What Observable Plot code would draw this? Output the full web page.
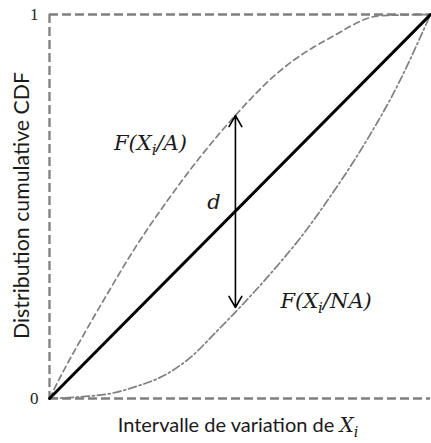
<!DOCTYPE html>
<html>
<head>
<meta charset="utf-8">
<script src="https://cdn.jsdelivr.net/npm/d3@7"></script>
<script src="https://cdn.jsdelivr.net/npm/@observablehq/plot@0.6"></script>
<style>
  html, body { margin: 0; padding: 0; background: #fff; }
  #chart svg { display: block; }
</style>
</head>
<body>
<div id="chart"></div>
<script>
// ---- data ----
const curveAX = [0, 0.04, 0.081, 0.152, 0.220, 0.310, 0.483, 0.606, 0.738, 0.869, 1];
const curveAY = [0, 0.078, 0.151, 0.273, 0.385, 0.516, 0.732, 0.854, 0.940, 0.997, 1];
const curveNAX = [0, 0.160, 0.220, 0.310, 0.370, 0.441, 0.488, 0.606, 0.659, 0.730, 0.861, 0.895, 1];
const curveNAY = [0, 0.013, 0.029, 0.065, 0.107, 0.177, 0.225, 0.355, 0.419, 0.516, 0.720, 0.780, 1];
const diagX = [0, 1];
const diagY = [0, 1];
const arrowX = 0.488;
const arrowMid = 0.488;
const arrowTop = 0.737;
const arrowBottom = 0.237;
const yTicks = [0, 1];
const yTickLabels = ["0", "1"];
const labelA = "F(X_i/A)";
const labelNA = "F(X_i/NA)";
const labelD = "d";
const labelAPos = [0.265, 0.665];
const labelNAPos = [0.606, 0.252];
const labelDPos = [0.432, 0.51];
const xTitle = "Intervalle de variation de X_i";
const yTitle = "Distribution cumulative CDF";

const A = curveAX.map((x, i) => ({x, y: curveAY[i]}));
const NA = curveNAX.map((x, i) => ({x, y: curveNAY[i]}));
const diag = diagX.map((x, i) => ({x, y: diagY[i]}));
const arrows = [
  {x1: arrowX, y1: arrowMid, x2: arrowX, y2: arrowTop},
  {x1: arrowX, y1: arrowMid, x2: arrowX, y2: arrowBottom}
];
const gray = "#7f7f7f";
const mathFont = "'DejaVu Serif', 'Liberation Serif', serif";
const tickFont = "'Liberation Serif', serif";
const sansFont = "Lato, 'Open Sans', sans-serif";

const plot = Plot.plot({
  width: 431,
  height: 443,
  marginLeft: 49,
  marginRight: 1,
  marginTop: 14,
  marginBottom: 45,
  x: {domain: [0, 1], axis: null},
  y: {domain: [0, 1], axis: null},
  style: {background: "#fff", overflow: "visible"},
  marks: [
    Plot.ruleY([0, 1], {stroke: gray, strokeWidth: 2.3, strokeDasharray: "9,4"}),
    Plot.ruleX([0], {stroke: gray, strokeWidth: 2.3, strokeDasharray: "9,4"}),
    Plot.line(A, {x: "x", y: "y", curve: "monotone-x", stroke: gray, strokeWidth: 1.7, strokeDasharray: "6,4"}),
    Plot.line(NA, {x: "x", y: "y", curve: "monotone-x", stroke: gray, strokeWidth: 1.7, strokeDasharray: "8,3,2,3"}),
    Plot.line(diag, {x: "x", y: "y", stroke: "#000", strokeWidth: 3}),
    Plot.arrow(arrows, {x1: "x1", y1: "y1", x2: "x2", y2: "y2", stroke: "#000", strokeWidth: 1.6, headLength: 12, headAngle: 60}),
    Plot.axisY({ticks: yTicks, tickSize: 0, tickPadding: 11, tickFormat: (d) => yTickLabels[yTicks.indexOf(d)], fontSize: 17, fontFamily: tickFont, label: null, color: "#222"}),
    Plot.text([labelA], {x: () => labelAPos[0], y: () => labelAPos[1], text: (d) => d, fontSize: 21, fontStyle: "italic", fontFamily: mathFont, fill: "#1a1a1a"}),
    Plot.text([labelNA], {x: () => labelNAPos[0], y: () => labelNAPos[1], text: (d) => d, fontSize: 21, fontStyle: "italic", fontFamily: mathFont, fill: "#1a1a1a", textAnchor: "start"}),
    Plot.text([labelD], {x: () => labelDPos[0], y: () => labelDPos[1], text: (d) => d, fontSize: 21, fontStyle: "italic", fontFamily: mathFont, fill: "#1a1a1a"}),
    Plot.text([xTitle], {frameAnchor: "bottom", textAnchor: "middle", text: (d) => d, dy: 33, dx: -2, fontSize: 20, fontFamily: sansFont, fill: "#1a1a1a"}),
    Plot.text([yTitle], {frameAnchor: "left", textAnchor: "middle", text: (d) => d, rotate: -90, dx: -27, dy: -1, fontSize: 21.3, fontFamily: sansFont, fill: "#1a1a1a"})
  ]
});

// subscript / math styling of labels like X_i
const ns = "http://www.w3.org/2000/svg";
d3.select(plot).selectAll("text").each(function () {
  const s = this.textContent;
  if (!s.includes("_")) return;
  const math = this.getAttribute("font-style") === "italic" ||
    (this.parentNode && this.parentNode.getAttribute("font-style") === "italic");
  const parts = s.split(/_(\w)/);
  this.textContent = "";
  const el = this;
  parts.forEach((p, k) => {
    if (k % 2 === 1) {
      const t = document.createElementNS(ns, "tspan");
      t.setAttribute("dy", "5");
      t.setAttribute("font-size", "0.72em");
      t.setAttribute("font-style", "italic");
      t.setAttribute("font-family", mathFont);
      t.textContent = p;
      el.appendChild(t);
    } else {
      let pre = p, last = "";
      if (!math && k + 1 < parts.length) { pre = p.slice(0, -1); last = p.slice(-1); }
      if (pre) {
        const t = document.createElementNS(ns, "tspan");
        if (k > 0) t.setAttribute("dy", "-5");
        t.textContent = pre;
        el.appendChild(t);
      }
      if (last) {
        const t = document.createElementNS(ns, "tspan");
        t.setAttribute("font-style", "italic");
        t.setAttribute("font-family", mathFont);
        t.setAttribute("font-size", "1.0em");
        t.textContent = last;
        el.appendChild(t);
      }
    }
  });
});

document.getElementById("chart").appendChild(plot);
</script>
</body>
</html>
